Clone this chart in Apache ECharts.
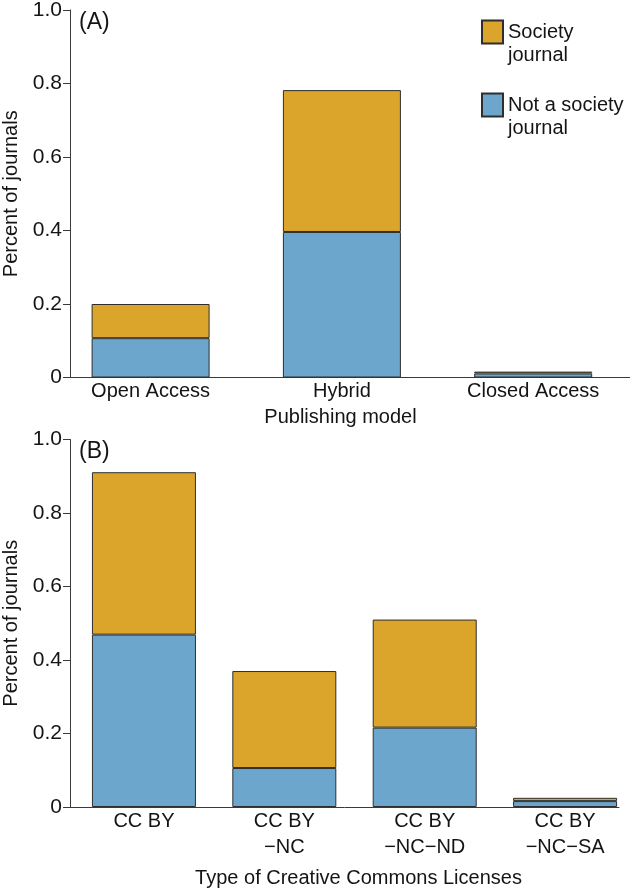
<!DOCTYPE html>
<html><head><meta charset="utf-8">
<script src="https://cdn.jsdelivr.net/npm/echarts@6/dist/echarts.min.js"></script>
<style>html,body{margin:0;padding:0;background:#fff}#c{width:630px;height:895px}</style>
</head><body><div id="c"></div>
<script>
// ---- data ----
const modelCategories = ['Open Access', 'Hybrid', 'Closed Access'];
const modelNotSociety = [0.107, 0.396, 0.011];
const modelSociety = [0.093, 0.386, 0.005];

const licenseCategories = ['CC BY', 'CC BY\n\u2212NC', 'CC BY\n\u2212NC\u2212ND', 'CC BY\n\u2212NC\u2212SA'];
const licenseNotSociety = [0.469, 0.106, 0.216, 0.016];
const licenseSociety = [0.442, 0.264, 0.294, 0.009];

const seriesNames = ['Society journal', 'Not a society journal'];
const legendLabels = ['Society\njournal', 'Not a society\njournal'];
const yTickMin = 0, yTickMax = 1, yTickStep = 0.2;

// ---- styles ----
const FONT = '"Liberation Sans", Arial, Helvetica, sans-serif';
const GOLD = '#DAA52A';
const BLUE = '#6CA6CD';
const EDGE = '#2e2e2e';
const AX = '#3a3a3a';
const TXT = '#141414';

const chart = echarts.init(document.getElementById('c'), null, {renderer: 'canvas'});

function yAxis(gridIndex) {
  return {
    type: 'value', gridIndex: gridIndex, min: yTickMin, max: yTickMax, interval: yTickStep,
    name: 'Percent of journals', nameLocation: 'middle', nameGap: 48,
    nameTextStyle: {fontFamily: FONT, fontSize: 20, color: TXT},
    axisLine: {show: true, onZero: false, lineStyle: {color: AX, width: 1}},
    axisTick: {show: true, length: 7, lineStyle: {color: AX, width: 1}},
    axisLabel: {fontFamily: FONT, fontSize: 21, color: TXT, margin: 8,
      formatter: v => (v === 0 ? '0' : v.toFixed(1))},
    splitLine: {show: false}
  };
}

function xAxis(gridIndex, cats, min, max, name, nameGap, namePad) {
  return {
    type: 'value', gridIndex: gridIndex, min: min, max: max,
    name: name, nameLocation: 'middle', nameGap: nameGap,
    nameTextStyle: {fontFamily: FONT, fontSize: 20, color: TXT, lineHeight: 22, padding: namePad},
    axisLine: {show: true, onZero: false, lineStyle: {color: AX, width: 1}},
    axisTick: {show: false},
    splitLine: {show: false},
    axisLabel: {
      customValues: cats.map((c, i) => i),
      formatter: v => cats[Math.round(v)],
      fontFamily: FONT, fontSize: 20, color: TXT, lineHeight: 26, margin: 1
    }
  };
}

// value first, position second, so the stack is computed on the value dimension
function bars(name, vals, axisIdx, stack, width, color) {
  return {
    type: 'bar', name: name, xAxisIndex: axisIdx, yAxisIndex: axisIdx, stack: stack,
    barWidth: width,
    dimensions: ['value', 'pos'],
    encode: {x: 'pos', y: 'value'},
    data: vals.map((v, i) => [v, i]),
    itemStyle: {color: color, borderColor: EDGE, borderWidth: 1},
    emphasis: {disabled: true}
  };
}

chart.setOption({
  animation: false,
  backgroundColor: '#ffffff',
  textStyle: {fontFamily: FONT},
  title: [
    {text: '(A)', left: 79, top: 11, padding: 0, textStyle: {fontFamily: FONT, fontSize: 23, fontWeight: 'normal', color: TXT}},
    {text: '(B)', left: 79, top: 440, padding: 0, textStyle: {fontFamily: FONT, fontSize: 23, fontWeight: 'normal', color: TXT}}
  ],
  legend: {
    data: seriesNames,
    orient: 'vertical', left: 481, top: -2.5, padding: 0,
    itemWidth: 21, itemHeight: 23, itemGap: 4,
    selectedMode: false,
    icon: 'rect',
    // leading blank line keeps the first text line level with the swatch
    formatter: n => '\n' + legendLabels[seriesNames.indexOf(n)],
    textStyle: {fontFamily: FONT, fontSize: 20, lineHeight: 23, color: TXT}
  },
  grid: [
    {left: 70, top: 10, width: 560, height: 367.5, containLabel: false, outerBoundsMode: 'none'},
    {left: 70, top: 439.5, width: 549, height: 367.5, containLabel: false, outerBoundsMode: 'none'}
  ],
  xAxis: [
    xAxis(0, modelCategories, -0.4213, 2.506, 'Publishing model', 29, [0, 19, 0, 0]),
    xAxis(1, licenseCategories, -0.5267, 3.384, 'Type of Creative Commons Licenses', 60.5, [0, 0, 0, 28])
  ],
  yAxis: [yAxis(0), yAxis(1)],
  series: [
    bars(seriesNames[1], modelNotSociety, 0, 'A', 118, BLUE),
    bars(seriesNames[0], modelSociety, 0, 'A', 118, GOLD),
    bars(seriesNames[1], licenseNotSociety, 1, 'B', 104, BLUE),
    bars(seriesNames[0], licenseSociety, 1, 'B', 104, GOLD)
  ]
});
</script>
</body></html>
